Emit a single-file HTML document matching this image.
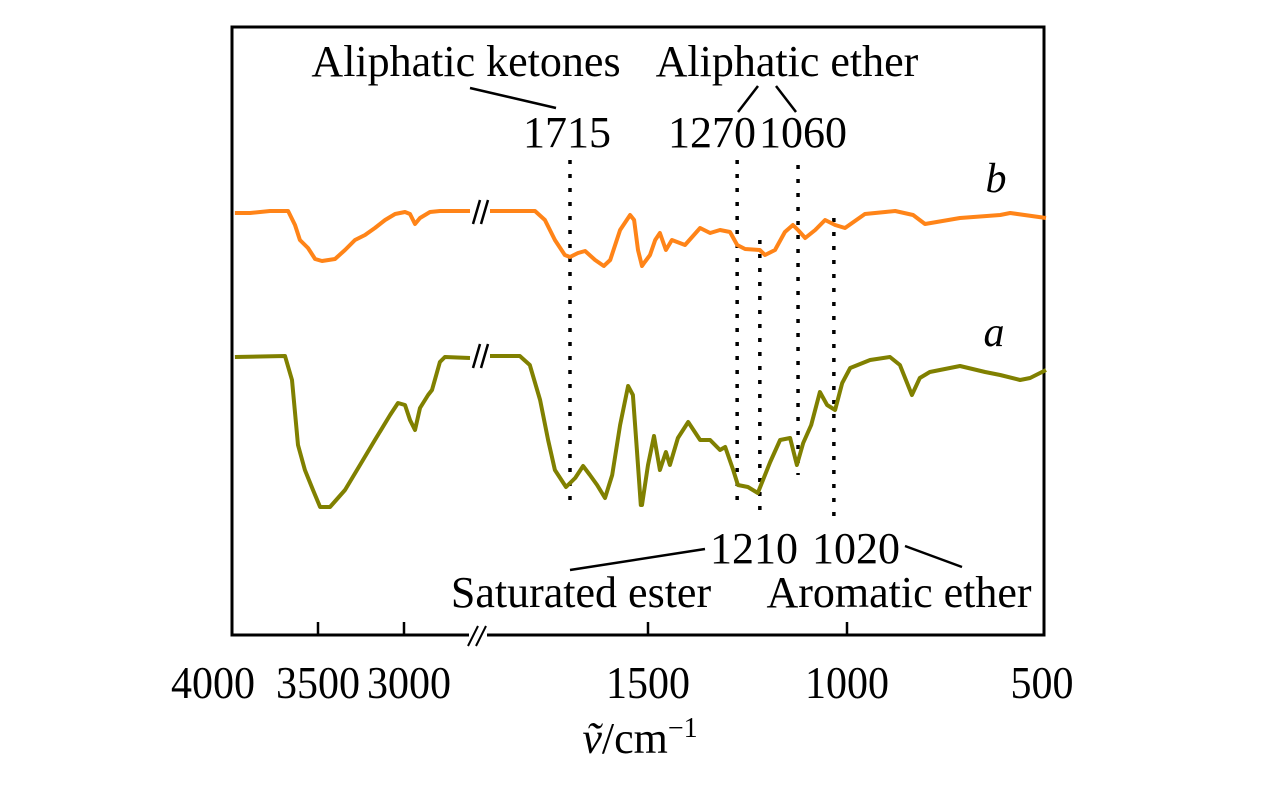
<!DOCTYPE html>
<html><head><meta charset="utf-8">
<style>
html,body{margin:0;padding:0;background:#fff;}
svg{display:block;font-family:"Liberation Serif",serif;}
</style></head>
<body>
<svg id="chart" width="1276" height="787" viewBox="0 0 1276 787" xmlns="http://www.w3.org/2000/svg"></svg>
<script>
// ---- data ----
const tickValues = [4000, 3500, 3000, 1500, 1000, 500];
const tickLabels = ["4000", "3500", "3000", "1500", "1000", "500"];
const seriesNames = ["b", "a"];
const seriesBWn = [3983,3895,3779,3674,3634,3605,3558,3517,3477,3401,3343,3285,3227,3169,3110,3052,2994,2965,2936,2907,2849,2791,2616,
  1897,1784,1759,1734,1709,1696,1676,1658,1633,1611,1595,1570,1545,1535,1525,1515,1508,1495,1482,1470,1455,1440,1407,1369,1344,1319,1294,1276,1256,1219,1206,1181,1156,1136,1123,1105,1080,1055,1030,1005,955,904,879,834,804,716,615,590,500];
const seriesBVal = [422,422,424,424,410,395,387,376,374,376,385,395,400,407,415,421,423,421,411,417,423,424,424,
  424,424,415,395,380,378,382,384,375,369,375,405,420,415,385,369,373,380,395,402,385,395,390,407,402,405,403,390,386,385,380,385,403,410,405,397,405,415,410,407,421,423,424,420,411,417,420,422,417,419];
const seriesAWn = [3983,3692,3651,3616,3576,3529,3488,3430,3343,3256,3169,3081,3035,2994,2965,2936,2907,2860,2837,2791,2762,2616,
  1897,1822,1797,1771,1751,1734,1706,1683,1663,1646,1628,1608,1590,1570,1550,1538,1528,1518,1515,1500,1485,1470,1455,1445,1425,1399,1369,1344,1319,1306,1286,1274,1249,1224,1193,1168,1143,1126,1110,1090,1068,1050,1030,1012,992,942,892,867,837,817,792,716,653,615,565,540,500];
const seriesAVal = [278,279,255,190,165,145,128,128,145,170,195,220,232,230,215,205,227,240,245,273,278,277,
  279,279,270,235,195,165,148,157,169,160,150,137,160,210,249,240,185,130,130,170,199,165,183,170,197,213,195,195,185,188,165,150,148,142,173,195,197,170,192,210,243,230,225,252,267,275,278,270,240,257,263,269,263,260,255,257,265];
const peakLabels = ["1715","1270","1060","1210","1020"];
const peakWn = [1696,1276,1123,1219,1033];

// ---- scales ----
const Y0 = 635;
function xScale(w){
  if (w >= 2300) return 232 + (4000 - w) * 0.172;
  return 648 + (1500 - w) * 0.398;
}
function yScale(v){ return Y0 - v; }

const svg = document.getElementById('chart');
const NS = 'http://www.w3.org/2000/svg';
function mk(tag, attrs, parent){
  const e = document.createElementNS(NS, tag);
  for (const k in attrs) e.setAttribute(k, attrs[k]);
  (parent || svg).appendChild(e);
  return e;
}
function txt(s, x, y, size, anchor, style){
  const t = mk('text', {x:x, y:y, 'font-size':size, 'text-anchor':anchor||'middle', fill:'#000'});
  if (style) t.setAttribute('font-style', style);
  t.textContent = s;
  return t;
}

// frame
const frame = mk('rect', {x:232, y:27, width:812, height:608, fill:'none', stroke:'#000', 'stroke-width':3});



// ticks + labels
tickValues.forEach((v, i) => {
  const x = xScale(v);
  if (v !== 4000 && v !== 500) {
    const t = mk('line', {x1:x, y1:Y0, x2:x, y2:Y0-13, stroke:'#000', 'stroke-width':2.5});
    
    
  }
  const off = v===4000 ? -19 : (v===500 ? -4 : (v===3000 ? 5 : 0));
  const lab = txt(tickLabels[i], x + off, 698, 46);
  lab.setAttribute('textLength', tickLabels[i].length * 21);
  lab.setAttribute('lengthAdjust', 'spacingAndGlyphs');
  
  
});

// axis break
const brk = mk('g', {});


mk('rect', {x:469, y:Y0-3, width:18, height:6, fill:'#fff'}, brk);
mk('line', {x1:468, y1:646, x2:478, y2:626, stroke:'#000', 'stroke-width':2}, brk);
mk('line', {x1:476, y1:646, x2:486, y2:626, stroke:'#000', 'stroke-width':2}, brk);

// axis title
const xt = mk('text', {x:640, y:753, 'font-size':44, 'text-anchor':'middle', fill:'#000'});


xt.innerHTML = '<tspan font-style="italic">ṽ</tspan>/cm<tspan dy="-16" font-size="28">−1</tspan>';

// dotted peak lines
const peakTop = [160, 160, 165, 240, 218];
const peakBot = [510, 505, 475, 520, 525];
peakWn.forEach((w, i) => {
  const x = xScale(w);
  const l = mk('line', {x1:x, y1:peakTop[i], x2:x, y2:peakBot[i], stroke:'#000', 'stroke-width':3.5, 'stroke-dasharray':'4,10'});
  
  
});

// series
function drawSeries(wn, val, color, name){
  let dl = '', dr = '';
  wn.forEach((w, i) => {
    const p = xScale(w).toFixed(1) + ',' + yScale(val[i]).toFixed(1);
    if (w >= 2300) dl += (dl ? 'L' : 'M') + p; else dr += (dr ? 'L' : 'M') + p;
  });
  const g = mk('g', {});
  
  
  mk('path', {d:dl, fill:'none', stroke:color, 'stroke-width':4, 'stroke-linejoin':'round'}, g);
  mk('path', {d:dr, fill:'none', stroke:color, 'stroke-width':4, 'stroke-linejoin':'round'}, g);
  const yb = yScale(val[0]) - 1;
  mk('line', {x1:473, y1:yb+12, x2:480, y2:yb-12, stroke:'#000', 'stroke-width':2.5}, g);
  mk('line', {x1:481, y1:yb+12, x2:488, y2:yb-12, stroke:'#000', 'stroke-width':2.5}, g);
}
drawSeries(seriesBWn, seriesBVal, '#FF8418', seriesNames[0]);
drawSeries(seriesAWn, seriesAVal, '#808000', seriesNames[1]);

// series labels
const lb = txt('b', 996, 192, 42, 'middle', 'italic');


const la = txt('a', 994, 346, 42, 'middle', 'italic');



// annotations
const ann = [
  ['Aliphatic ketones', 466, 76, 'annotation-aliphatic-ketones'],
  ['Aliphatic ether', 787, 76, 'annotation-aliphatic-ether'],
  ['1715', 567, 147, 'peak-label-1715'],
  ['1270', 712, 147, 'peak-label-1270'],
  ['1060', 803, 147, 'peak-label-1060'],
  ['1210', 754, 563, 'peak-label-1210'],
  ['1020', 856, 563, 'peak-label-1020'],
  ['Saturated ester', 581, 607, 'annotation-saturated-ester'],
  ['Aromatic ether', 899, 607, 'annotation-aromatic-ether']
];
ann.forEach(a => {
  const t = txt(a[0], a[1], a[2], 44);
  
  
});
const leaders = [[470,88,556,108],[738,112,758,86],[776,86,796,112],[570,570,705,549],[905,546,962,567]];
leaders.forEach(l => {
  const e = mk('line', {x1:l[0], y1:l[1], x2:l[2], y2:l[3], stroke:'#000', 'stroke-width':2.5});
  
  
});
</script>
</body></html>
